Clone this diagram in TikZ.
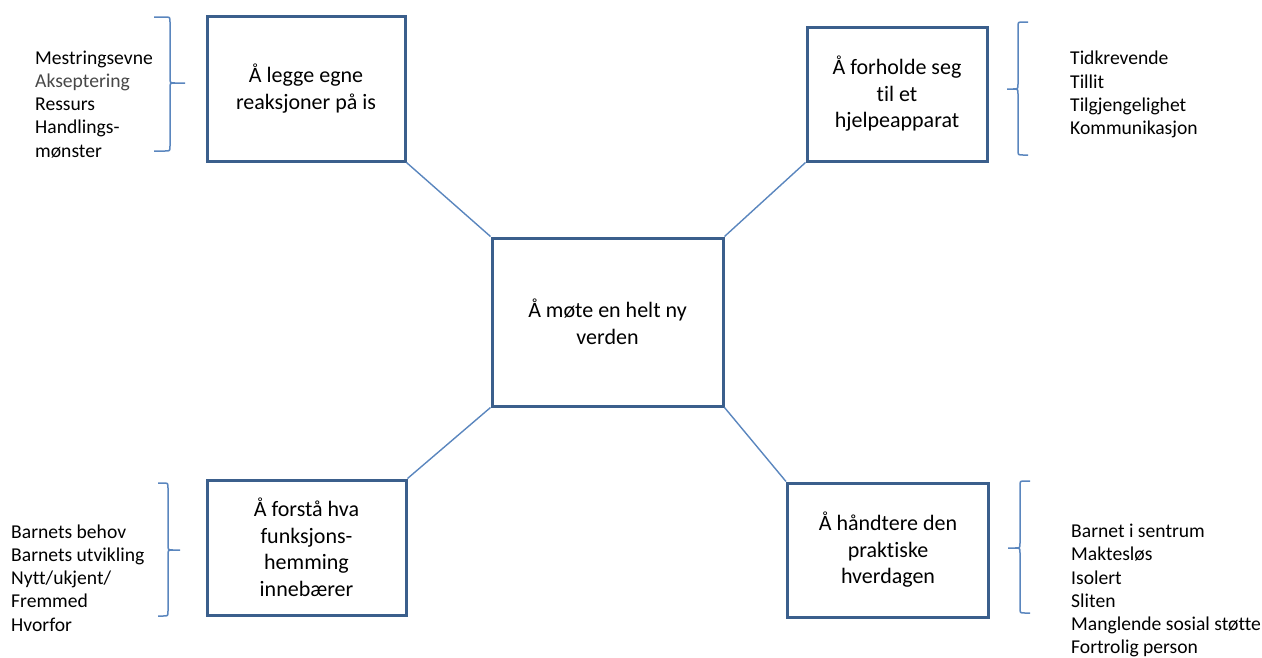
\documentclass[tikz,border=0pt]{standalone}
\usepackage{fontspec}
\setmainfont{Carlito}[Ligatures={NoCommon}]
\definecolor{boxblue}{HTML}{3B5F8C}
\definecolor{lineblue}{HTML}{5A86BE}
\newcommand{\mybrace}[7]{%
  \draw[bracestyle] (#1,#4) -- ({#2-5*(#7)},#4) .. controls (#2,#4) .. (#2,#4+5)
    -- (#2,#5-5) .. controls (#2,#5) .. ({#2+5*(#7)},#5) -- (#3,#5);
  \draw[bracestyle] ({#2+5*(#7)},#5) .. controls (#2,#5) .. (#2,#5+5)
    -- (#2,#6-5) .. controls (#2,#6) .. ({#2-5*(#7)},#6) -- (#1,#6);}
\begin{document}
\begin{tikzpicture}[x=1pt,y=-1pt,
  box/.style={draw=boxblue, line width=3pt, inner sep=0pt, align=center,
    font=\fontsize{22}{26.5}\selectfont},
  lst/.style={anchor=west, inner sep=0pt, align=left,
    font=\fontsize{19.6}{23.3}\selectfont},
  conn/.style={draw=lineblue, line width=1.4pt},
  bracestyle/.style={draw=lineblue, line width=1.5pt}]
\useasboundingbox (0,0) rectangle (1262,657);

% boxes
\node[box, minimum width=198pt, minimum height=145pt] (tl) at (306,88.5)
  {Å legge egne\\reaksjoner på is};
\node[box, minimum width=180pt, minimum height=134pt] (tr) at (897,94)
  {Å forholde seg\\til et\\hjelpeapparat};
\node[box, minimum width=231pt, minimum height=168pt] (c) at (607.5,322)
  {Å møte en helt ny\\verden};
\node[box, minimum width=199pt, minimum height=135pt] (bl) at (306.5,547.5)
  {Å forstå hva\\funksjons-\\hemming\\innebærer};
\node[box, minimum width=201pt, minimum height=134pt] (br) at (888,550)
  {Å håndtere den\\praktiske\\hverdagen};

% connectors
\draw[conn] (tl.south east) -- (c.north west);
\draw[conn] (tr.south west) -- (c.north east);
\draw[conn] (bl.north east) -- (c.south west);
\draw[conn] (br.north west) -- (c.south east);

% lists
\node[lst] (ltl) at (35,106)
  {\strut Mestringsevne\\{\color{black!72}Akseptering}\\Ressurs\\Handlings-\\mønster\strut};
\node[lst] (ltr) at (1070,95)
  {\strut Tidkrevende\\Tillit\\Tilgjengelighet\\Kommunikasjon\strut};
\node[lst] (lbl) at (11,580)
  {\strut Barnets behov\\Barnets utvikling\\Nytt/ukjent/\\Fremmed\\Hvorfor\strut};
\node[lst] (lbr) at (1071,591)
  {\strut Barnet i sentrum\\Maktesløs\\Isolert\\Sliten\\Manglende sosial støtte\\Fortrolig person\strut};

% braces
\mybrace{154}{170}{185}{17}{83}{151}{1}
\mybrace{1028}{1018}{1007}{22}{89}{155}{-1}
\mybrace{158}{168}{180}{483}{550}{616}{1}
\mybrace{1030}{1020}{1008}{481}{548}{613}{-1}
\end{tikzpicture}
\end{document}
